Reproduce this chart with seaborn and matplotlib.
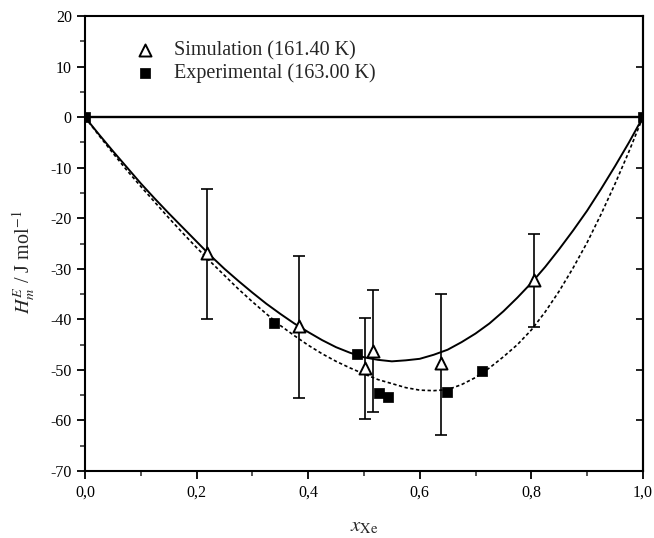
import matplotlib
matplotlib.use("Agg")
import matplotlib.pyplot as plt
from matplotlib.ticker import MultipleLocator, FixedFormatter, FixedLocator
import seaborn as sns
import pandas as pd

# ---- data ----
sim_x = [0.219, 0.384, 0.502, 0.516, 0.639, 0.805]
sim_y = [-26.9, -41.3, -49.7, -46.2, -48.7, -32.2]
sim_err_hi = [-14.2, -27.5, -39.8, -34.2, -35.0, -23.1]
sim_err_lo = [-39.9, -55.5, -59.7, -58.4, -62.9, -41.5]

exp_x = [0.0, 0.339, 0.487, 0.527, 0.544, 0.648, 0.711, 1.0]
exp_y = [0.0, -40.8, -46.8, -54.5, -55.3, -54.4, -50.3, 0.0]

fit_x = [0.0, 0.025, 0.05, 0.075, 0.1, 0.125, 0.15, 0.175, 0.2, 0.225, 0.25,
         0.275, 0.3, 0.325, 0.35, 0.375, 0.4, 0.425, 0.45, 0.475, 0.5,
         0.525, 0.55, 0.575, 0.6, 0.625, 0.65, 0.675, 0.7, 0.725, 0.75,
         0.775, 0.8, 0.825, 0.85, 0.875, 0.9, 0.925, 0.95, 0.975, 1.0]
sim_fit_y = [0.0, -3.4, -6.7, -9.9, -13.1, -16.1, -19.0, -21.8, -24.6, -27.4, -30.0,
             -32.4, -34.7, -36.9, -38.9, -40.8, -42.5, -44.1, -45.5, -46.6, -47.5,
             -48.0, -48.3, -48.1, -47.8, -47.0, -46.0, -44.5, -42.8, -40.8, -38.4,
             -35.7, -32.8, -29.6, -26.1, -22.4, -18.5, -14.2, -9.7, -5.0, 0.0]
exp_fit_y = [0.0, -3.6, -7.1, -10.5, -13.7, -16.8, -19.9, -22.9, -25.8, -28.6, -31.3,
             -34.0, -36.5, -38.9, -41.2, -43.2, -45.1, -46.8, -48.3, -49.6, -50.8,
             -51.9, -52.7, -53.5, -54.0, -54.1, -53.9, -52.9, -51.5, -49.6, -47.4,
             -45.0, -42.1, -38.5, -34.4, -29.8, -24.8, -19.2, -13.2, -6.8, 0.0]

x_ticks = [0.0, 0.2, 0.4, 0.6, 0.8, 1.0]
x_tick_labels = ["0,0", "0,2", "0,4", "0,6", "0,8", "1,0"]
y_ticks = [20, 10, 0, -10, -20, -30, -40, -50, -60, -70]

sim_label = "Simulation (161.40 K)"
exp_label = "Experimental (163.00 K)"

# ---- figure ----
sns.set_theme(style="white")
plt.rcParams["font.family"] = ["Liberation Serif", "DejaVu Serif"]
plt.rcParams["mathtext.fontset"] = "stix"
plt.rcParams["axes.unicode_minus"] = False

fig = plt.figure(figsize=(6.54, 5.38), dpi=100)
ax = fig.add_axes([0.130, 0.1245, 0.853, 0.8455])

df_sim_fit = pd.DataFrame({"x": fit_x, "y": sim_fit_y})
df_exp_fit = pd.DataFrame({"x": fit_x, "y": exp_fit_y})
sns.lineplot(data=df_sim_fit, x="x", y="y", ax=ax, color="black", lw=1.4,
             sort=False, legend=False)
sns.lineplot(data=df_exp_fit, x="x", y="y", ax=ax, color="black", lw=1.2,
             sort=False, legend=False, linestyle=(0, (2.0, 1.5)))

ax.axhline(0, color="black", lw=1.7, zorder=2)

# error bars
yerr_lo = [s - l for s, l in zip(sim_y, sim_err_lo)]
yerr_hi = [h - s for s, h in zip(sim_y, sim_err_hi)]
ax.errorbar(sim_x, sim_y, yerr=[yerr_lo, yerr_hi], fmt="none", ecolor="black",
            elinewidth=1.2, capsize=4.5, capthick=1.2, zorder=3)

df_exp = pd.DataFrame({"x": exp_x, "y": exp_y})
sns.scatterplot(data=df_exp, x="x", y="y", ax=ax, marker="s", s=42, color="black",
                edgecolor="black", zorder=5, label=exp_label)
df_sim = pd.DataFrame({"x": sim_x, "y": sim_y})
sns.scatterplot(data=df_sim, x="x", y="y", ax=ax, marker="^", s=75, facecolor="white",
                edgecolor="black", linewidth=1.4, zorder=6, label=sim_label)

ax.set_xlim(0, 1.0)
ax.set_ylim(-70, 20)
ax.xaxis.set_major_locator(FixedLocator(x_ticks))
ax.xaxis.set_major_formatter(FixedFormatter(x_tick_labels))
ax.xaxis.set_minor_locator(MultipleLocator(0.1))
ax.yaxis.set_major_locator(FixedLocator(y_ticks))
ax.yaxis.set_minor_locator(MultipleLocator(5))

ax.tick_params(axis="both", which="major", direction="out", length=6, width=1.3,
               labelsize=11.5, colors="black", bottom=True, left=True, right=False, top=False)
ax.tick_params(axis="both", which="minor", direction="out", length=3.5, width=1.1,
               bottom=True, left=True, right=False, top=False)

sec = ax.secondary_yaxis("right")
sec.yaxis.set_major_locator(FixedLocator(y_ticks))
sec.tick_params(axis="y", which="major", direction="in", length=5, width=1.2,
                labelright=False, colors="black")
sec.spines["right"].set_linewidth(1.5)
sec.spines["right"].set_color("black")

for sp in ax.spines.values():
    sp.set_color("black")
    sp.set_linewidth(1.5)

ax.set_xlabel(r"$x_{\mathrm{Xe}}$", fontsize=15, labelpad=12)
ax.set_ylabel(r"$H^{E}_{m}$ / J mol$^{-1}$", fontsize=14.5)
ax.yaxis.set_label_coords(-0.085, 0.46)

handles, labels = ax.get_legend_handles_labels()
order = [labels.index(sim_label), labels.index(exp_label)]
ax.legend([handles[i] for i in order], [labels[i] for i in order],
          loc="upper left", bbox_to_anchor=(0.072, 0.945), frameon=False,
          borderaxespad=0, borderpad=0,
          fontsize=14.5, handlelength=2.0, handletextpad=0.4, labelspacing=0.15)

fig.savefig("out.png", dpi=100)
